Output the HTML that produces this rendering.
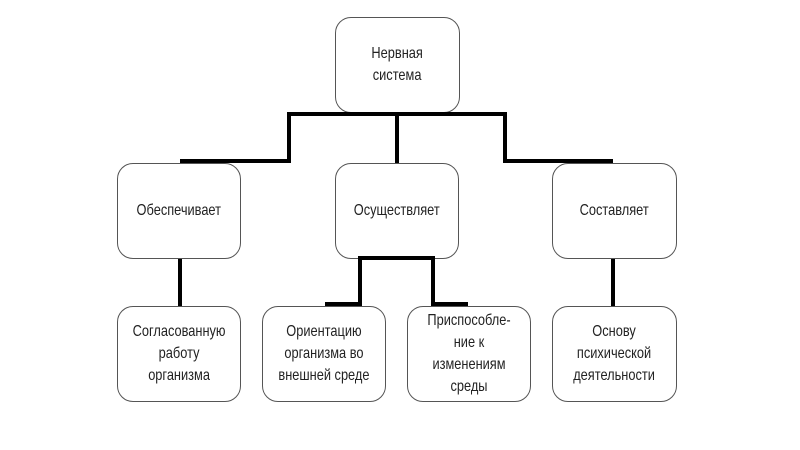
<!DOCTYPE html>
<html><head><meta charset="utf-8"><style>
body{margin:0;background:#fff;width:800px;height:450px;overflow:hidden;position:relative;font-family:"Liberation Sans",sans-serif}
.b{position:absolute;border:1.3px solid #555;border-radius:16px;background:#fff;box-sizing:border-box;display:flex;align-items:center;justify-content:center;text-align:center;font-size:16px;line-height:22px;color:#222}
.b span{display:inline-block;transform:scaleX(0.8);white-space:nowrap}
.l{position:absolute;background:#000}
</style></head><body>
<div class="b" style="left:335px;top:17px;width:125px;height:96px"><span>Нервная<br>система</span></div>
<div class="b" style="left:117px;top:163px;width:124px;height:96px"><span>Обеспечивает</span></div>
<div class="b" style="left:335px;top:163px;width:124px;height:96px"><span>Осуществляет</span></div>
<div class="b" style="left:552px;top:163px;width:125px;height:96px"><span>Составляет</span></div>
<div class="b" style="left:117px;top:306px;width:124px;height:96px"><span>Согласованную<br>работу<br>организма</span></div>
<div class="b" style="left:262px;top:306px;width:124px;height:96px"><span>Ориентацию<br>организма во<br>внешней среде</span></div>
<div class="b" style="left:407px;top:306px;width:124px;height:96px"><span>Приспособле-<br>ние к<br>изменениям<br>среды</span></div>
<div class="b" style="left:552px;top:306px;width:125px;height:96px"><span>Основу<br>психической<br>деятельности</span></div>
<div class="l" style="left:287px;top:112px;width:220px;height:4px"></div>
<div class="l" style="left:395px;top:112px;width:4px;height:51px"></div>
<div class="l" style="left:287px;top:112px;width:4px;height:51px"></div>
<div class="l" style="left:180px;top:159px;width:111px;height:4px"></div>
<div class="l" style="left:503px;top:112px;width:4px;height:51px"></div>
<div class="l" style="left:503px;top:159px;width:110px;height:4px"></div>
<div class="l" style="left:178px;top:259px;width:4px;height:47px"></div>
<div class="l" style="left:611px;top:259px;width:4px;height:47px"></div>
<div class="l" style="left:358px;top:256px;width:77px;height:4px"></div>
<div class="l" style="left:358px;top:256px;width:4px;height:50px"></div>
<div class="l" style="left:325px;top:302px;width:37px;height:4px"></div>
<div class="l" style="left:431px;top:256px;width:4px;height:50px"></div>
<div class="l" style="left:431px;top:302px;width:37px;height:4px"></div>
</body></html>
